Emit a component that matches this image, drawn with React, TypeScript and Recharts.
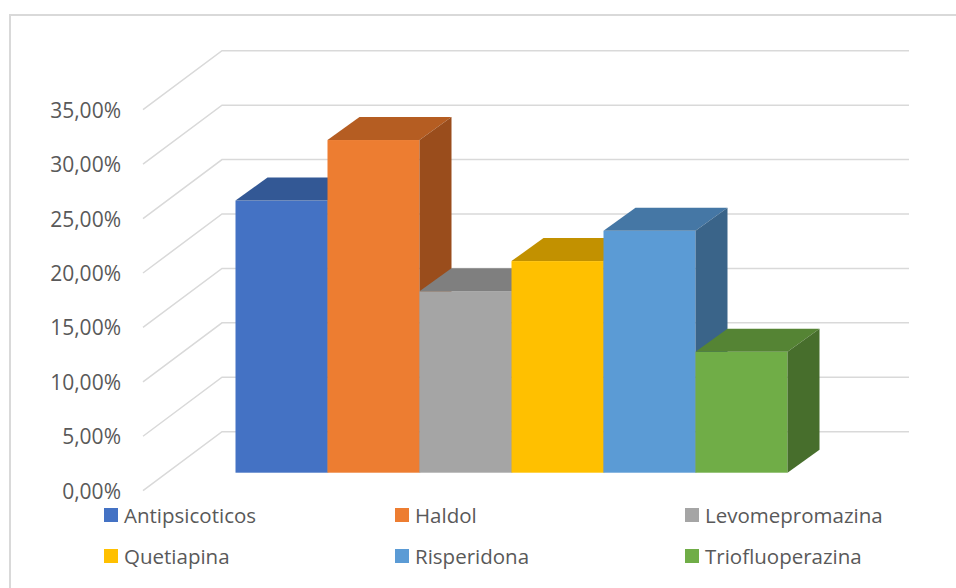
import { Bar, BarChart, CartesianGrid, Legend, XAxis, YAxis } from "recharts";

const SERIES = [
  "Antipsicoticos",
  "Haldol",
  "Levomepromazina",
  "Quetiapina",
  "Risperidona",
  "Triofluoperazina",
];
const VALUES = [0.25, 0.3056, 0.1667, 0.1944, 0.2222, 0.1111];
const Y_TICKS = [0, 0.05, 0.1, 0.15, 0.2, 0.25, 0.3, 0.35];

const FRONT_COLORS = ["#4472C4", "#ED7D31", "#A5A5A5", "#FFC000", "#5B9BD5", "#70AD47"];
const TOP_COLORS = ["#335895", "#B55D22", "#7F7F7F", "#C29100", "#4577A5", "#558434"];
const SIDE_COLORS = ["#2B4B80", "#9A4D1C", "#6C6C6C", "#A57B00", "#3A6489", "#476E2C"];

const rows = [
  { group: "", ...Object.fromEntries(SERIES.map((s, i) => [s, VALUES[i]])) },
];

// oblique projection offsets, relative to the plane the bar fronts sit on
const DEPTH = { dx: 32, dy: 23 };
const FLOOR_FRONT = { dx: -25, dy: 18 };
const WALL_BACK = { dx: 54, dy: -41 };

const FONT = "'Open Sans', sans-serif";
const TEXT = "#595959";
const LINE = "#D9D9D9";

const LEGEND_X = [104, 395, 685];
const LEGEND_Y = [514.5, 556];

const fmtPct = (v: number) => (v * 100).toFixed(2).replace(".", ",") + "%";

function GridLine(props: any) {
  const { x1, x2, y1, index } = props;
  const pts = [
    [x1 + FLOOR_FRONT.dx, y1 + FLOOR_FRONT.dy],
    [x1 + WALL_BACK.dx, y1 + WALL_BACK.dy],
    [x2 + WALL_BACK.dx, y1 + WALL_BACK.dy],
  ];
  return (
    <polyline
      key={`grid-${index}`}
      points={pts.map((p) => p.join(",")).join(" ")}
      fill="none"
      stroke={LINE}
      strokeWidth={1.5}
    />
  );
}

function YTick({ y, payload }: any) {
  return (
    <text
      x={121}
      y={y + FLOOR_FRONT.dy}
      textAnchor="end"
      dominantBaseline="central"
      fill={TEXT}
      fontFamily={FONT}
      fontSize={21}
    >
      {fmtPct(payload.value)}
    </text>
  );
}

function Box3D({ x, y, width, height, fill, top, side }: any) {
  if (height <= 0) return null;
  const { dx, dy } = DEPTH;
  const r = x + width;
  const b = y + height;
  const topFace = `${x},${y} ${x + dx},${y - dy} ${r + dx},${y - dy} ${r},${y}`;
  const sideFace = `${r},${y} ${r + dx},${y - dy} ${r + dx},${b - dy} ${r},${b}`;
  return (
    <g>
      <rect x={x} y={y} width={width} height={height} fill={fill} />
      <polygon points={topFace} fill={top} />
      <polygon points={sideFace} fill={side} />
    </g>
  );
}

function LegendBlock({ payload }: any) {
  return (
    <div style={{ position: "relative", width: 956, height: 0 }}>
      {(payload || []).map((entry: any, i: number) => (
        <div
          key={entry.value}
          style={{
            position: "absolute",
            left: LEGEND_X[i % 3],
            top: LEGEND_Y[Math.floor(i / 3)] - 14,
            height: 28,
            display: "flex",
            alignItems: "center",
            whiteSpace: "nowrap",
          }}
        >
          <span
            style={{ width: 14, height: 14, background: entry.color, marginRight: 6 }}
          />
          <span style={{ fontFamily: FONT, fontSize: 20.5, color: TEXT }}>
            {entry.value}
          </span>
        </div>
      ))}
    </div>
  );
}

export default function App() {
  return (
    <div
      style={{
        position: "absolute",
        left: 0,
        top: 0,
        width: 956,
        height: 588,
        background: "#fff",
        overflow: "hidden",
      }}
    >
      <div
        style={{
          position: "absolute",
          left: 9,
          top: 14,
          width: 960,
          height: 600,
          borderTop: `2px solid ${LINE}`,
          borderLeft: `2px solid ${LINE}`,
        }}
      />
      <BarChart
        width={956}
        height={588}
        data={rows}
        margin={{ top: 91.7, right: 101, bottom: 115.3, left: 108 }}
        barCategoryGap={67.5}
        barGap={0}
        style={{ position: "absolute", left: 0, top: 0 }}
      >
        <CartesianGrid vertical={false} horizontal={GridLine} />
        <XAxis dataKey="group" hide />
        <YAxis
          width={60}
          domain={[0, 0.35]}
          ticks={Y_TICKS}
          axisLine={false}
          tickLine={false}
          tick={<YTick />}
          interval={0}
        />
        <Legend
          content={<LegendBlock />}
          wrapperStyle={{ left: 0, top: 0, bottom: "auto", width: 956, height: 0 }}
        />
        {SERIES.map((s, i) => (
          <Bar
            key={s}
            dataKey={s}
            name={s}
            fill={FRONT_COLORS[i]}
            isAnimationActive={false}
            shape={(p: any) => (
              <Box3D {...p} top={TOP_COLORS[i]} side={SIDE_COLORS[i]} />
            )}
          />
        ))}
      </BarChart>
    </div>
  );
}
